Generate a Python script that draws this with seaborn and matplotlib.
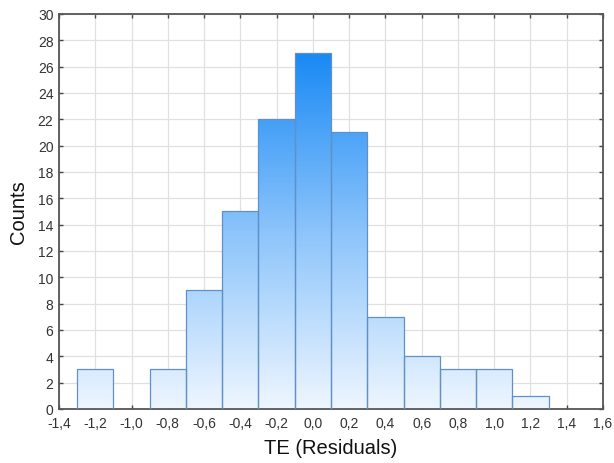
import numpy as np
import pandas as pd
import matplotlib
matplotlib.use("Agg")
import matplotlib.pyplot as plt
import seaborn as sns
from matplotlib.colors import LinearSegmentedColormap
from matplotlib.ticker import FuncFormatter

bin_centers = [-1.2, -1.0, -0.8, -0.6, -0.4, -0.2, 0.0, 0.2, 0.4, 0.6, 0.8, 1.0, 1.2]
counts = [3, 0, 3, 9, 15, 22, 27, 21, 7, 4, 3, 3, 1]
bin_edges = [-1.3, -1.1, -0.9, -0.7, -0.5, -0.3, -0.1, 0.1, 0.3, 0.5, 0.7, 0.9, 1.1, 1.3]
x_ticks = [-1.4, -1.2, -1.0, -0.8, -0.6, -0.4, -0.2, 0.0, 0.2, 0.4, 0.6, 0.8, 1.0, 1.2, 1.4, 1.6]
y_ticks = list(range(0, 31, 2))

df = pd.DataFrame({"resid": bin_centers, "count": counts})

sns.set_style("white")
plt.rcParams['font.family'] = ['Liberation Sans', 'DejaVu Sans']

fig = plt.figure(figsize=(6.14, 4.64), dpi=100)
ax = fig.add_axes([0.0961, 0.1164, 0.8859, 0.8513])

sns.histplot(data=df, x="resid", weights="count", bins=bin_edges, ax=ax,
             color="none", edgecolor="#6090c8", linewidth=0.9, alpha=1, zorder=3)

cmap = LinearSegmentedColormap.from_list("g", ["#eef6ff", "#8cc4fb", "#1a8af5"])
vmax = max(counts)
for p in ax.patches:
    x0, y0 = p.get_x(), p.get_y()
    w, h = p.get_width(), p.get_height()
    if h <= 0:
        p.set_visible(False)
        continue
    p.set_facecolor("none")
    grad = np.linspace(h / vmax, 0, 200).reshape(-1, 1)
    im = ax.imshow(grad, extent=[x0, x0 + w, 0, h], cmap=cmap, vmin=0, vmax=1,
                   aspect="auto", zorder=2, interpolation="bilinear")
    im.set_clip_path(p)

ax.set_xlim(-1.4, 1.6)
ax.set_ylim(0, 30)
ax.set_xticks(x_ticks)
ax.set_yticks(y_ticks)
fmt = FuncFormatter(lambda v, pos: f"{v:.1f}".replace(".", ",").replace("-0,0", "0,0"))
ax.xaxis.set_major_formatter(fmt)
ax.yaxis.set_major_formatter(FuncFormatter(lambda v, pos: f"{int(v)}"))

ax.grid(True, color="#e0e0e0", linewidth=0.9, zorder=0)
ax.set_axisbelow(True)
for s in ax.spines.values():
    s.set_visible(True)
    s.set_color("#555555")
    s.set_linewidth(1.3)

ax.tick_params(axis="both", which="both", direction="in", length=3, width=1,
               color="#444444", labelsize=10, labelcolor="#333333",
               top=True, right=True, bottom=True, left=True,
               labeltop=False, labelright=False)
ax.tick_params(axis="x", pad=5)
ax.tick_params(axis="y", pad=4)

ax.set_xlabel("TE (Residuals)", fontsize=14.5, color="#111111", labelpad=6)
ax.set_ylabel("Counts", fontsize=14.5, color="#111111", labelpad=7)

fig.savefig("out.png", dpi=100)
